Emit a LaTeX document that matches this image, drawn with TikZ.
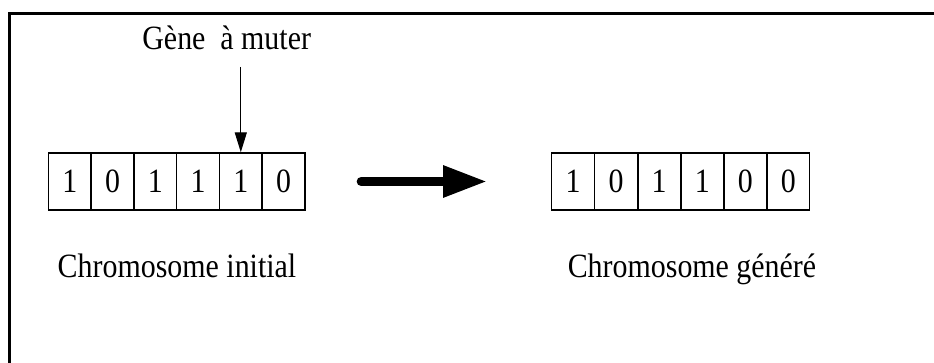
\documentclass[tikz,border=0pt]{standalone}
\usepackage{fontspec}
\setmainfont{Liberation Serif}[FakeStretch=0.88]
\usetikzlibrary{arrows.meta}
\begin{document}
\begin{tikzpicture}[x=1pt,y=-1pt,
  cell/.style={draw, line width=1.4pt, minimum width=42.8pt, minimum height=57pt,
    inner sep=0pt, anchor=north west, font=\fontsize{34}{34}\selectfont},
  txt/.style={anchor=base, inner sep=0pt, font=\fontsize{34}{34}\selectfont},
  mutarrow/.style={line width=1.3pt, -{Triangle[length=20pt,width=12pt]}},
  bigarrow/.style={line width=9pt, line cap=round, -{Triangle[length=44pt,width=30pt]}}
]
\useasboundingbox (0,0) rectangle (934,363);
% frame
\draw[line width=3pt] (9.5,363) -- (9.5,14) -- (934,14);

% initial chromosome
\foreach \b [count=\i] in {1,0,1,1,1,0}
  \node[cell] (L\i) at ({47.7+(\i-1)*42.75},152.3) {\b};
% generated chromosome
\foreach \b [count=\i] in {1,0,1,1,0,0}
  \node[cell] (R\i) at ({551+(\i-1)*43.05},152.3) {\b};

% captions
\node[txt] (gene) at (226.7,49.5) {Gène\ \ à muter};
\node[txt] (capL) at (177,277) {Chromosome initial};
\node[txt] (capR) at (692,278) {Chromosome généré};

% mutation pointer
\coordinate (mstart) at (L5.north |- 0,67);
\draw[mutarrow] (mstart) -- (L5.north);

% transformation arrow
\draw[bigarrow, shorten <=55.5pt, shorten >=64pt] (L6.east) -- (R1.west);
\end{tikzpicture}
\end{document}
